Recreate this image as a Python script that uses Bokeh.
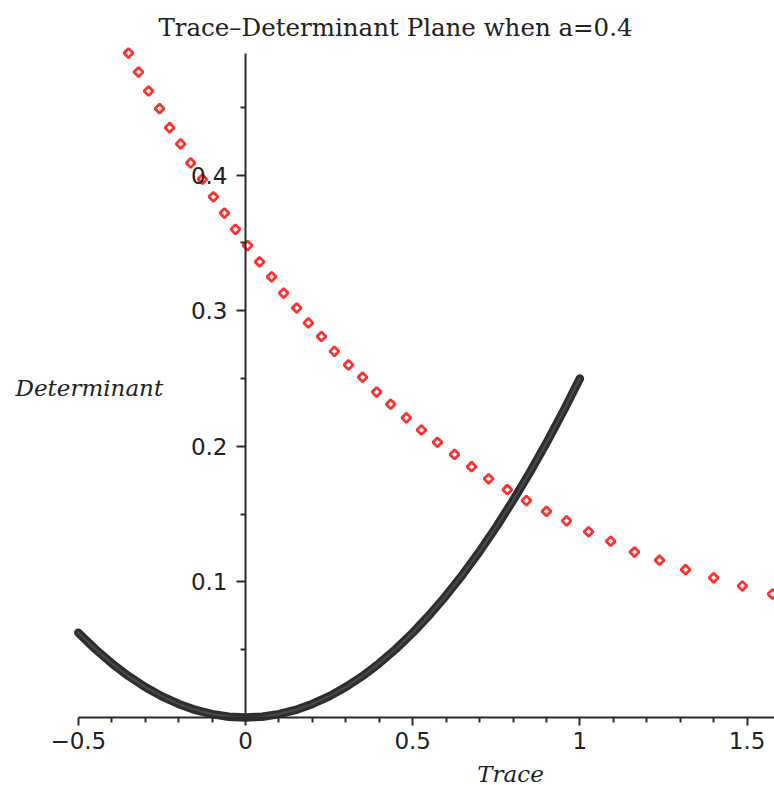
from math import pi

from bokeh.plotting import figure
from bokeh.models import LinearAxis, FixedTicker, Range1d, Label, CustomJSTickFormatter
from bokeh.embed import file_html
from bokeh.resources import INLINE

# Repeated-eigenvalue boundary: Determinant = Trace^2 / 4 (black curve)
trace_boundary = [-0.50, -0.45, -0.40, -0.35, -0.30, -0.25, -0.20, -0.15, -0.10, -0.05,
                  0.00, 0.05, 0.10, 0.15, 0.20, 0.25, 0.30, 0.35, 0.40, 0.45,
                  0.50, 0.55, 0.60, 0.65, 0.70, 0.75, 0.80, 0.85, 0.90, 0.95, 1.00]
det_boundary = [0.0625, 0.0506, 0.0400, 0.0306, 0.0225, 0.0156, 0.0100, 0.0056, 0.0025, 0.0006,
                0.0000, 0.0006, 0.0025, 0.0056, 0.0100, 0.0156, 0.0225, 0.0306, 0.0400, 0.0506,
                0.0625, 0.0756, 0.0900, 0.1056, 0.1225, 0.1406, 0.1600, 0.1806, 0.2025, 0.2256, 0.2500]

# Path of the system through the plane for a = 0.4 (red points)
trace_path = [-0.350, -0.320, -0.290, -0.257, -0.227, -0.194, -0.164, -0.129, -0.096, -0.063,
              -0.030, 0.006, 0.042, 0.078, 0.114, 0.153, 0.188, 0.227, 0.266, 0.308,
              0.350, 0.392, 0.434, 0.481, 0.526, 0.574, 0.625, 0.676, 0.727, 0.783,
              0.840, 0.900, 0.960, 1.026, 1.092, 1.163, 1.238, 1.316, 1.400, 1.486, 1.576]
det_path = [0.490, 0.476, 0.462, 0.449, 0.435, 0.423, 0.409, 0.397, 0.384, 0.372,
            0.360, 0.348, 0.336, 0.325, 0.313, 0.302, 0.291, 0.281, 0.270, 0.260,
            0.251, 0.240, 0.231, 0.221, 0.212, 0.203, 0.194, 0.185, 0.176, 0.168,
            0.160, 0.152, 0.145, 0.137, 0.130, 0.122, 0.116, 0.109, 0.103, 0.097, 0.091]

x_major = [-0.5, 0.0, 0.5, 1.0, 1.5]
x_minor = [-0.4, -0.3, -0.2, -0.1, 0.1, 0.2, 0.3, 0.4, 0.6, 0.7, 0.8, 0.9,
           1.1, 1.2, 1.3, 1.4, 1.6]
y_major = [0.1, 0.2, 0.3, 0.4]
y_minor = [0.05, 0.15, 0.25, 0.35, 0.45]

title_text = "Trace\u2013Determinant Plane when a=0.4"
x_label = "Trace"
y_label = "Determinant"

# Canvas geometry: the plotting frame fills the whole canvas and the axes
# are drawn through the origin.
W, H = 774, 785
ORIGIN_X, PX_PER_X = 245.0, 334.4
ORIGIN_Y, PX_PER_Y = 717.0, 1356.0


def dx(px):
    return (px - ORIGIN_X) / PX_PER_X


def dy(py):
    return (ORIGIN_Y - py) / PX_PER_Y


p = figure(width=W, height=H, output_backend="svg", toolbar_location=None,
           x_axis_location=None, y_axis_location=None,
           x_range=Range1d(dx(0), dx(W)), y_range=Range1d(dy(H), dy(0)),
           min_border=0, outline_line_color=None, background_fill_color="white",
           border_fill_color="white")
p.grid.visible = False

AXIS_COLOR = "#2b2b2b"
LABEL_FONT = "DejaVu Sans"

# plain numbers, with a true minus sign for negatives
tick_fmt = CustomJSTickFormatter(code="""
    const v = Math.round(tick * 100) / 100;
    return v < 0 ? "\\u2212" + String(-v) : String(v);
""")


def style_axis(ax, standoff, tick_out):
    ax.axis_line_color = AXIS_COLOR
    ax.axis_line_width = 2
    ax.major_tick_line_color = AXIS_COLOR
    ax.major_tick_line_width = 2
    ax.major_tick_in = 0
    ax.major_tick_out = tick_out
    ax.minor_tick_line_color = AXIS_COLOR
    ax.minor_tick_line_width = 2
    ax.minor_tick_in = 0
    ax.minor_tick_out = 5
    ax.major_label_text_font = LABEL_FONT
    ax.major_label_text_font_size = "23px"
    ax.major_label_text_color = "#222222"
    ax.major_label_standoff = standoff
    ax.formatter = tick_fmt


xaxis = LinearAxis(fixed_location=0, bounds=(-0.5, dx(W)),
                   ticker=FixedTicker(ticks=x_major, minor_ticks=x_minor))
style_axis(xaxis, standoff=6, tick_out=8)
p.add_layout(xaxis, "below")

yaxis = LinearAxis(fixed_location=0, bounds=(0, dy(52.5)),
                   ticker=FixedTicker(ticks=y_major, minor_ticks=y_minor))
style_axis(yaxis, standoff=9, tick_out=9)
p.add_layout(yaxis, "left")

# Black boundary curve drawn as a heavy band
p.line(trace_boundary, det_boundary, line_color="#1c1c1c", line_width=8.5,
       line_cap="round", line_join="round", line_alpha=0.92)
p.line(trace_boundary, det_boundary, line_color="#505050", line_width=2.2,
       line_cap="round", line_join="round", line_alpha=0.75)

# Red path as hollow diamonds
p.scatter(trace_path, det_path, marker="square", angle=pi / 4, size=6.5,
          line_color="#ff3030", line_width=2.8, fill_color="white")

p.add_layout(Label(x=dx(395), y=dy(27), text=title_text, text_align="center",
                   text_baseline="middle", text_font="DejaVu Serif",
                   text_font_size="24.5px", text_color="#222222"))
p.add_layout(Label(x=dx(510), y=dy(773), text=x_label, text_align="center",
                   text_baseline="middle", text_font="DejaVu Serif",
                   text_font_style="italic", text_font_size="23px",
                   text_color="#222222"))
p.add_layout(Label(x=dx(15), y=dy(387), text=y_label, text_align="left",
                   text_baseline="middle", text_font="DejaVu Serif",
                   text_font_style="italic", text_font_size="23px",
                   text_color="#222222"))

open("out.html", "w").write(file_html(p, INLINE))
